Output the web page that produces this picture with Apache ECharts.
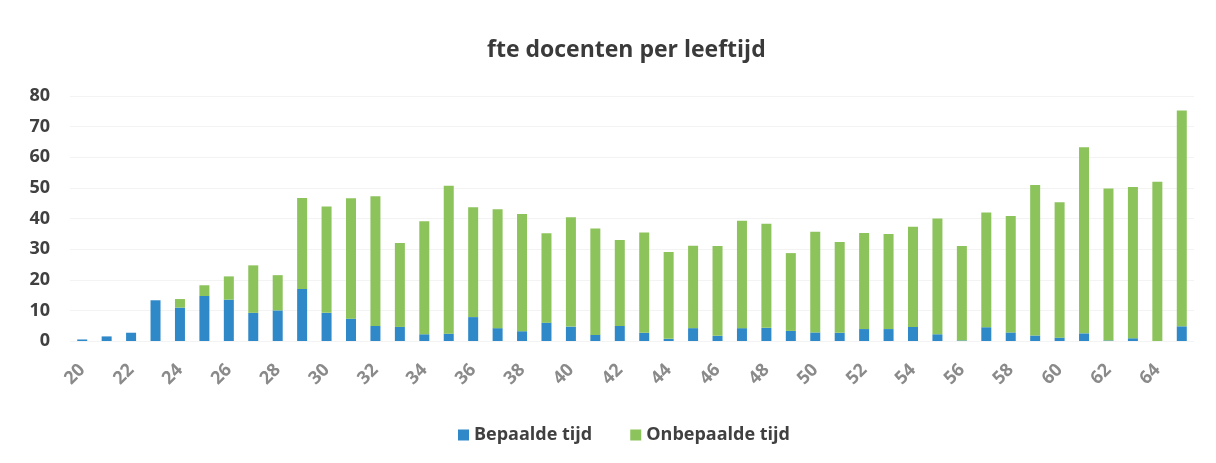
<!DOCTYPE html>
<html>
<head>
<meta charset="utf-8">
<script src="https://cdn.jsdelivr.net/npm/echarts@6/dist/echarts.min.js"></script>
<style>
  html, body { margin: 0; padding: 0; background: #fff; }
  #chart { width: 1216px; height: 463px; }
</style>
</head>
<body>
<div id="chart"></div>
<script>
// leeftijden 20 t/m 65
const ages = []
for (let a = 20; a <= 65; a++) ages.push(String(a))

const bepaalde = [
  0.5, 1.5, 2.7, 13.3, 10.9, 14.7, 13.5, 9.2, 10, 17,
  9.2, 7.3, 4.9, 4.6, 2.2, 2.4, 7.8, 4.2, 3.2, 6,
  4.7, 2, 4.9, 2.7, 0.7, 4.2, 1.7, 4.2, 4.3, 3.3,
  2.8, 2.7, 3.9, 3.9, 4.6, 2.2, 0.2, 4.5, 2.8, 1.8,
  1.1, 2.5, 0.2, 0.9, 0, 4.8
]
const onbepaalde = [
  0, 0, 0, 0, 2.8, 3.5, 7.6, 15.5, 11.5, 29.7,
  34.7, 39.3, 42.4, 27.4, 36.9, 48.3, 35.9, 38.8, 38.3, 29.2,
  35.7, 34.7, 28.1, 32.7, 28.4, 26.9, 29.3, 35.1, 34, 25.4,
  32.9, 29.6, 31.4, 31, 32.7, 37.8, 30.8, 37.5, 38, 49.1,
  44.2, 60.8, 49.6, 49.4, 52, 70.5
]

const chart = echarts.init(document.getElementById("chart"))
const option = {
  animation: false,
  title: {
    text: "fte docenten per leeftijd",
    left: 482,
    top: 34,
    textStyle: {
      fontFamily: "Open Sans",
      fontSize: 23,
      fontWeight: "bold",
      color: "#3a3a3a",
    },
  },
  legend: {
    bottom: 14,
    left: 453,
    itemWidth: 11,
    itemHeight: 11,
    itemGap: 38,
    icon: "rect",
    textStyle: {
      fontFamily: "Open Sans",
      fontSize: 18,
      fontWeight: "bold",
      color: "#404040",
    },
  },
  grid: {
    left: 70,
    right: 22,
    top: 96,
    bottom: 122,
  },
  xAxis: {
    type: "category",
    data: ages,
    axisLine: { show: false },
    axisTick: { show: false },
    axisLabel: {
      interval: 1,
      rotate: 45,
      margin: 26,
      fontFamily: "Open Sans",
      fontSize: 18,
      fontWeight: "bold",
      color: "#8a8a8a",
    },
  },
  yAxis: {
    type: "value",
    min: 0,
    max: 80,
    interval: 10,
    axisLine: { show: false },
    axisTick: { show: false },
    splitLine: { lineStyle: { color: "#f3f3f3" } },
    axisLabel: {
      margin: 20,
      fontFamily: "Open Sans",
      fontSize: 18,
      fontWeight: "bold",
      color: "#404040",
    },
  },
  series: [
    {
      name: "Bepaalde tijd",
      type: "bar",
      stack: "fte",
      barWidth: 10,
      itemStyle: { color: "#2F89C8" },
      data: bepaalde,
    },
    {
      name: "Onbepaalde tijd",
      type: "bar",
      stack: "fte",
      barWidth: 10,
      itemStyle: { color: "#8CC35B" },
      data: onbepaalde,
    },
  ],
}
chart.setOption(option)
window.addEventListener("resize", () => {
  chart.resize()
})
</script>
</body>
</html>
